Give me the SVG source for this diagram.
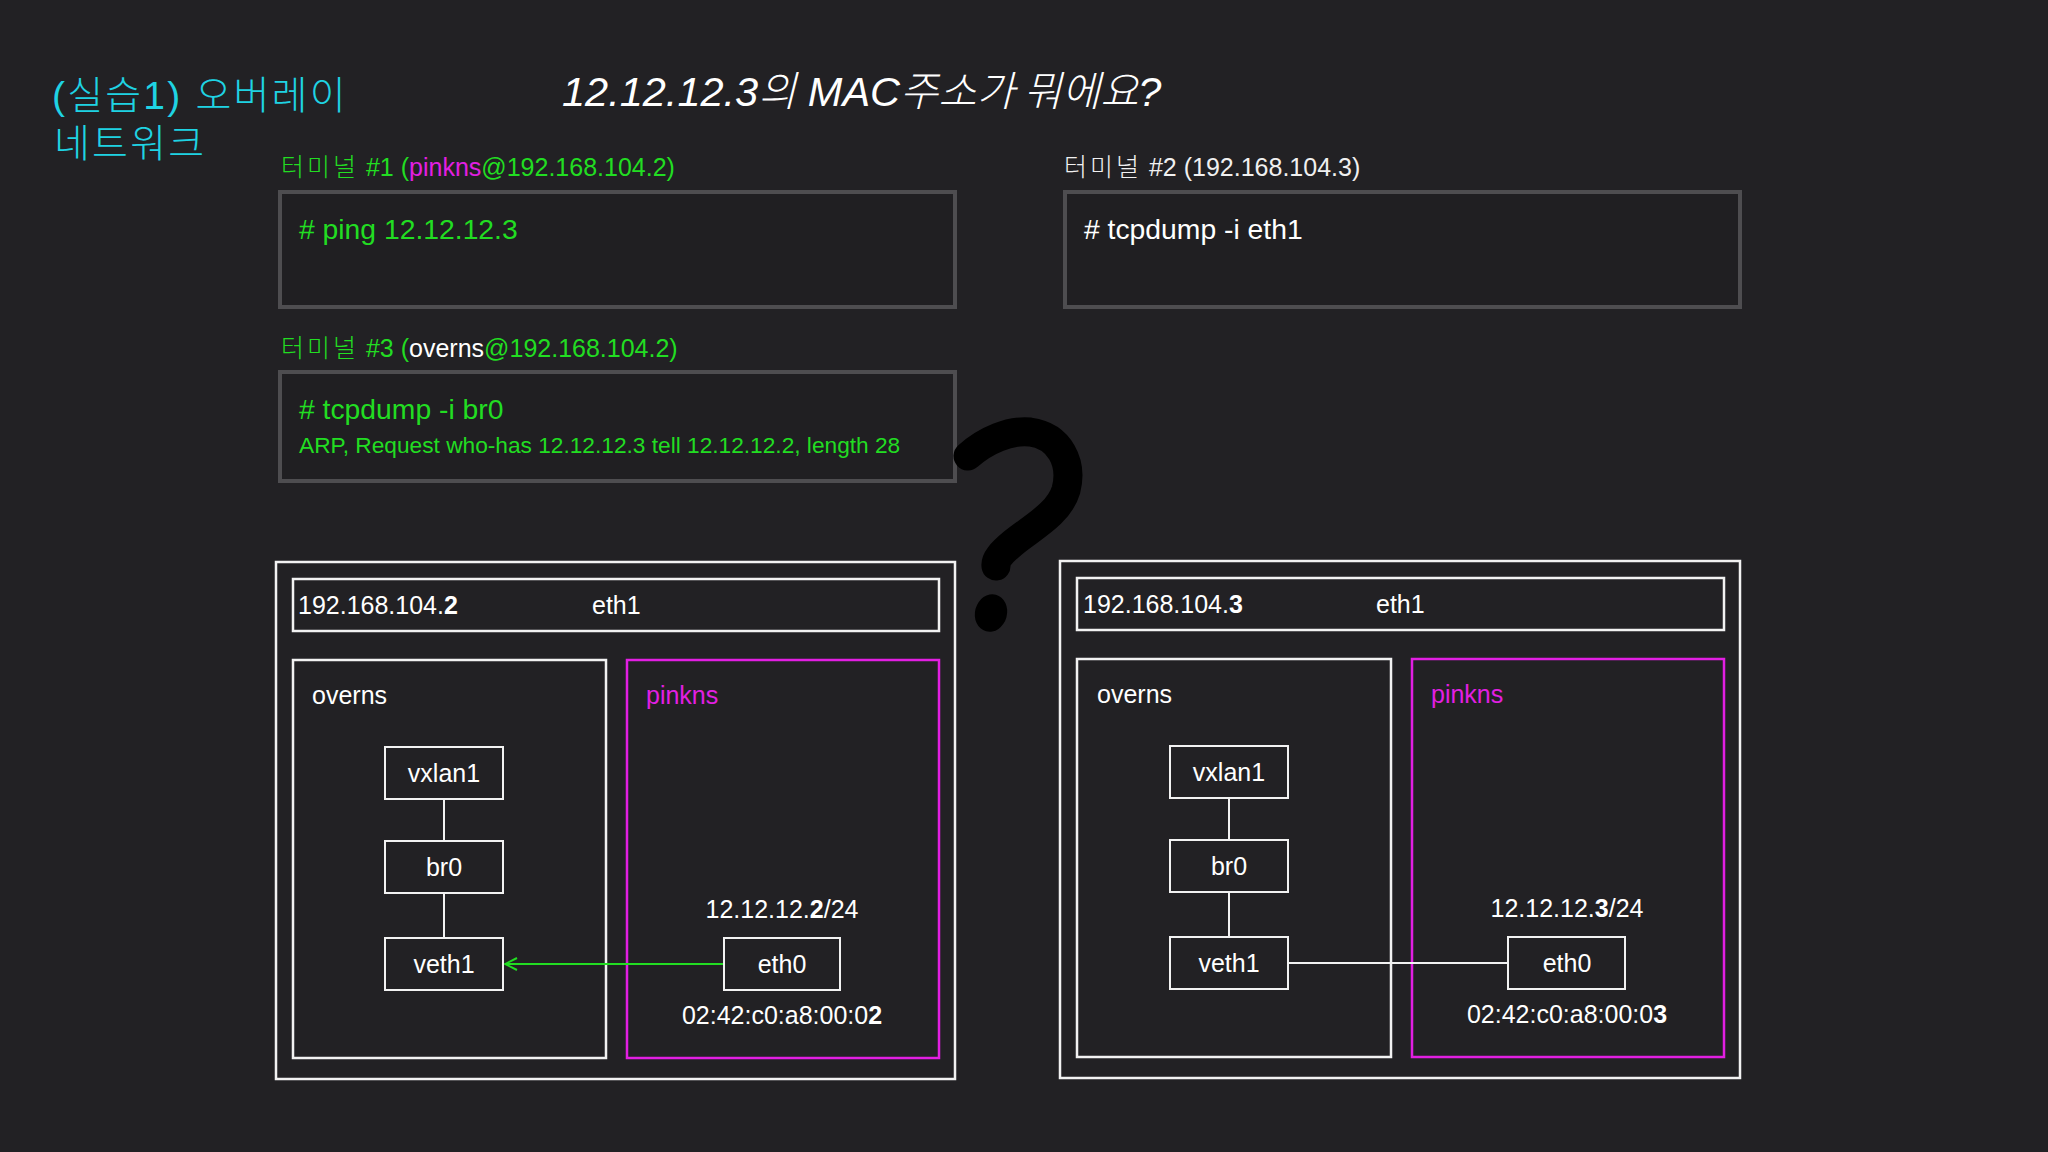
<svg xmlns="http://www.w3.org/2000/svg" width="2048" height="1152" viewBox="0 0 2048 1152">
  <defs>
    <style>
      text { font-family: "Liberation Sans", "Noto Sans CJK KR", sans-serif; }
      .ko { font-family: "Noto Sans CJK KR", sans-serif; font-weight: 300; }
      .lbl { font-size: 25px; fill: #ffffff; }
      .w { fill: #ffffff; }
      .g { fill: #22dd22; }
      .m { fill: #e21fe2; }
      .c { fill: #1fd3e3; }
      .term { fill: #201f22; stroke: #4e4d50; stroke-width: 4; }
      .host { fill: none; stroke: #f2f2f2; stroke-width: 2.5; }
      .nsw { fill: none; stroke: #f2f2f2; stroke-width: 2.5; }
      .nsp { fill: none; stroke: #e21fe2; stroke-width: 2.5; }
      .node { fill: #222124; stroke: #f2f2f2; stroke-width: 2; }
      .ctr { text-anchor: middle; }
      .wire { stroke: #f2f2f2; stroke-width: 2; fill: none; }
      .gwire { stroke: #22dd22; stroke-width: 2; fill: none; }
    </style>
    <marker id="openArrow" viewBox="0 0 14 14" refX="13" refY="7" markerWidth="14" markerHeight="14" markerUnits="userSpaceOnUse" orient="auto">
      <path d="M 1 1 L 13 7 L 1 13" fill="none" stroke="#22dd22" stroke-width="2"/>
    </marker>
  </defs>

  <rect x="0" y="0" width="2048" height="1152" fill="#222124"/>

  <!-- Title -->
  <g id="title">
    <text class="c" font-size="39" font-weight="300" letter-spacing="2.2"><tspan x="52" y="109">(실습1) 오버레이</tspan><tspan x="54" y="157">네트워크</tspan></text>
  </g>
  <g id="question">
    <text x="562" y="106" class="w" font-size="41.5" font-style="italic">12.12.12.3<tspan class="ko">의</tspan> MAC<tspan class="ko">주소가 뭐에요</tspan>?</text>
  </g>

  <!-- Terminal 1 -->
  <g id="terminal1">
    <text x="281" y="176" font-size="25"><tspan class="g ko" letter-spacing="3">터미널</tspan><tspan class="g"> #1 (</tspan><tspan class="m">pinkns</tspan><tspan class="g">@192.168.104.2)</tspan></text>
    <rect class="term" x="280" y="192" width="675" height="115"/>
    <text x="299" y="239" class="g" font-size="28.3"># ping 12.12.12.3</text>
  </g>

  <!-- Terminal 2 -->
  <g id="terminal2">
    <text x="1064" y="176" font-size="25" fill="#f0f0f0"><tspan class="ko" letter-spacing="3">터미널</tspan> #2 (192.168.104.3)</text>
    <rect class="term" x="1065" y="192" width="675" height="115"/>
    <text x="1084" y="239" class="w" font-size="28.3"># tcpdump -i eth1</text>
  </g>

  <!-- Terminal 3 -->
  <g id="terminal3">
    <text x="281" y="357" font-size="25"><tspan class="g ko" letter-spacing="3">터미널</tspan><tspan class="g"> #3 (</tspan><tspan class="w">overns</tspan><tspan class="g">@192.168.104.2)</tspan></text>
    <rect class="term" x="280" y="372" width="675" height="109"/>
    <text x="299" y="419" class="g" font-size="28.3"># tcpdump -i br0</text>
    <text x="299" y="453" class="g" font-size="22.7">ARP, Request who-has 12.12.12.3 tell 12.12.12.2, length 28</text>
  </g>

  <!-- Hand-drawn question mark -->
  <g id="question-mark">
    <path d="M 968 456 C 986 440, 1010 430, 1030 432 C 1060 436, 1073 463, 1066 490 C 1059 514, 1031 528, 1013 543 C 1001 553, 995 560, 996 566" fill="none" stroke="#000000" stroke-width="29" stroke-linecap="round" stroke-linejoin="round"/>
    <ellipse cx="991" cy="613" rx="16" ry="19" transform="rotate(15 991 613)" fill="#000000"/>
  </g>

  <!-- Host 1 -->
  <g id="host1">
    <rect class="host" x="276" y="562" width="679" height="517"/>
  </g>
  <g id="host1-eth1">
    <rect class="nsw" x="293" y="579" width="646" height="52"/>
    <text x="298" y="614" class="lbl">192.168.104.<tspan font-weight="bold">2</tspan></text>
    <text x="592" y="614" class="lbl">eth1</text>
  </g>
  <g id="host1-overns">
    <rect class="nsw" x="293" y="660" width="313" height="398"/>
    <text x="312" y="704" class="lbl">overns</text>
  </g>
  <g id="host1-pinkns">
    <rect class="nsp" x="627" y="660" width="312" height="398"/>
    <text x="646" y="704" font-size="25" fill="#e21fe2">pinkns</text>
    <text x="782" y="918" class="lbl ctr">12.12.12.<tspan font-weight="bold">2</tspan>/24</text>
    <text x="782" y="1024" class="lbl ctr">02:42:c0:a8:00:0<tspan font-weight="bold">2</tspan></text>
  </g>

  <!-- Host 2 -->
  <g id="host2">
    <rect class="host" x="1060" y="561" width="680" height="517"/>
  </g>
  <g id="host2-eth1">
    <rect class="nsw" x="1077" y="578" width="647" height="52"/>
    <text x="1083" y="613" class="lbl">192.168.104.<tspan font-weight="bold">3</tspan></text>
    <text x="1376" y="613" class="lbl">eth1</text>
  </g>
  <g id="host2-overns">
    <rect class="nsw" x="1077" y="659" width="314" height="398"/>
    <text x="1097" y="703" class="lbl">overns</text>
  </g>
  <g id="host2-pinkns">
    <rect class="nsp" x="1412" y="659" width="312" height="398"/>
    <text x="1431" y="703" font-size="25" fill="#e21fe2">pinkns</text>
    <text x="1567" y="917" class="lbl ctr">12.12.12.<tspan font-weight="bold">3</tspan>/24</text>
    <text x="1567" y="1023" class="lbl ctr">02:42:c0:a8:00:0<tspan font-weight="bold">3</tspan></text>
  </g>

  <!-- Connectors -->
  <g id="connectors">
    <line class="wire" x1="444" y1="799" x2="444" y2="841"/>
    <line class="wire" x1="444" y1="893" x2="444" y2="938"/>
    <line class="gwire" x1="724" y1="964" x2="505" y2="964" marker-end="url(#openArrow)"/>
    <line class="wire" x1="1229" y1="798" x2="1229" y2="840"/>
    <line class="wire" x1="1229" y1="892" x2="1229" y2="937"/>
    <line class="wire" x1="1288" y1="963" x2="1508" y2="963"/>
  </g>

  <!-- Nodes host 1 -->
  <g id="h1-vxlan1">
    <rect class="node" x="385" y="747" width="118" height="52"/>
    <text x="444" y="782" class="lbl ctr">vxlan1</text>
  </g>
  <g id="h1-br0">
    <rect class="node" x="385" y="841" width="118" height="52"/>
    <text x="444" y="876" class="lbl ctr">br0</text>
  </g>
  <g id="h1-veth1">
    <rect class="node" x="385" y="938" width="118" height="52"/>
    <text x="444" y="973" class="lbl ctr">veth1</text>
  </g>
  <g id="h1-eth0">
    <rect class="node" x="724" y="938" width="116" height="52"/>
    <text x="782" y="973" class="lbl ctr">eth0</text>
  </g>

  <!-- Nodes host 2 -->
  <g id="h2-vxlan1">
    <rect class="node" x="1170" y="746" width="118" height="52"/>
    <text x="1229" y="781" class="lbl ctr">vxlan1</text>
  </g>
  <g id="h2-br0">
    <rect class="node" x="1170" y="840" width="118" height="52"/>
    <text x="1229" y="875" class="lbl ctr">br0</text>
  </g>
  <g id="h2-veth1">
    <rect class="node" x="1170" y="937" width="118" height="52"/>
    <text x="1229" y="972" class="lbl ctr">veth1</text>
  </g>
  <g id="h2-eth0">
    <rect class="node" x="1508" y="937" width="117" height="52"/>
    <text x="1567" y="972" class="lbl ctr">eth0</text>
  </g>
</svg>
